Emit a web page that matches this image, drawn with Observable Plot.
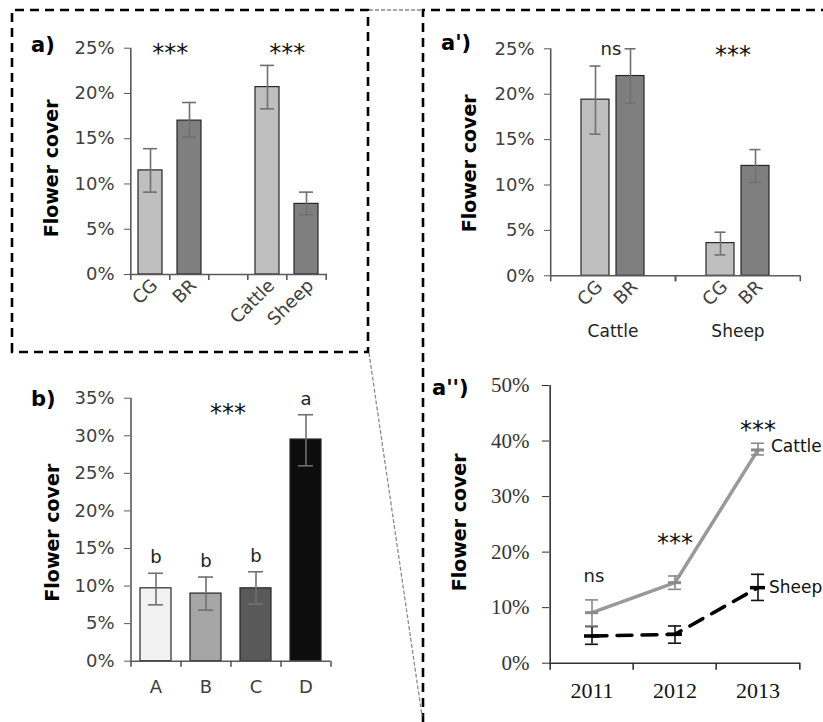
<!DOCTYPE html>
<html>
<head>
<meta charset="utf-8">
<script src="https://cdn.jsdelivr.net/npm/d3@7"></script>
<script src="https://cdn.jsdelivr.net/npm/@observablehq/plot@0.6"></script>
<style>
  html, body { margin: 0; padding: 0; background: #fff; }
  #wrap { position: relative; width: 823px; height: 722px; background: #fff; overflow: hidden; }
  .panel { position: absolute; }
  #overlay { position: absolute; left: 0; top: 0; pointer-events: none; }
  #papp g[aria-label="y-axis tick label"] text,
  #papp g[aria-label="x-axis tick label"] text { font-family: "Liberation Serif", serif; }
</style>
</head>
<body>
<div id="wrap">
  <div class="panel" id="pa" style="left:0px;top:0px"></div>
  <div class="panel" id="pap" style="left:420px;top:0px"></div>
  <div class="panel" id="pb" style="left:0px;top:350px"></div>
  <div class="panel" id="papp" style="left:420px;top:360px"></div>
  <svg id="overlay" width="823" height="722">
    <g fill="none" stroke="#000" stroke-width="2.6" stroke-dasharray="9 6">
      <path d="M12,352 V10 H368 V352 Z"></path>
      <path d="M423,722 V10 H823"></path>
    </g>
    <g fill="none" stroke="#8c8c8c" stroke-width="1.3" stroke-dasharray="4 2">
      <path d="M369,10 H421"></path>
      <path d="M369,353 L422,716"></path>
    </g>
    <g font-family="DejaVu Sans" font-weight="bold" font-size="21" fill="#000">
      <text x="31" y="51.5">a)</text>
      <text x="441" y="50">a')</text>
      <text x="31" y="406">b)</text>
      <text x="432" y="395">a'')</text>
    </g>
  </svg>
</div>
<script>
// ---------- Panel a) ----------
const aCategories = ["CG", "BR", "Cattle", "Sheep"];
const aMeans = [11.5, 17.0, 20.7, 7.8];
const aLow = [9.1, 15.2, 18.3, 6.6];
const aHigh = [13.9, 19.0, 23.1, 9.1];
const aSignifLeft = ["CG", "Cattle"];
const aSignifText = ["***", "***"];
const aTicks = [0, 5, 10, 15, 20, 25];

// ---------- Panel a') ----------
const apGroups = ["Cattle", "Cattle", "Sheep", "Sheep"];
const apTreatments = ["CG", "BR", "CG", "BR"];
const apMeans = [19.4, 22.0, 3.6, 12.1];
const apLow = [15.6, 19.0, 2.3, 10.3];
const apHigh = [23.1, 25.0, 4.8, 13.9];
const apGroupNames = ["Cattle", "Sheep"];
const apSignifText = ["ns", "***"];
const apTicks = [0, 5, 10, 15, 20, 25];

// ---------- Panel b) ----------
const bCategories = ["A", "B", "C", "D"];
const bMeans = [9.7, 9.0, 9.7, 29.5];
const bLow = [7.5, 6.8, 7.6, 26.0];
const bHigh = [11.7, 11.2, 11.9, 32.8];
const bLetters = ["b", "b", "b", "a"];
const bTicks = [0, 5, 10, 15, 20, 25, 30, 35];

// ---------- Panel a'') ----------
const years = ["2011", "2012", "2013"];
const cattleMeans = [9.1, 14.5, 38.4];
const cattleLow = [6.7, 13.3, 37.5];
const cattleHigh = [11.4, 15.7, 39.6];
const sheepMeans = [4.9, 5.2, 13.6];
const sheepLow = [3.4, 3.6, 11.3];
const sheepHigh = [6.6, 6.7, 16.0];
const yearSignifText = ["ns", "***", "***"];
const yearSignifLevel = [15.6, 22.5, 42.8];
const appTicks = [0, 10, 20, 30, 40, 50];

const SANS = "DejaVu Sans";
const SERIF = "Liberation Serif";
const AXIS = "#595959";
const ERR = "#707070";
const BAR_STROKE = "#262626";
const pct = d => d + "%";

function errMarks(data, opts, capInset, stroke, sw) {
  return [
    Plot.ruleX(data, {...opts, y1: "lo", y2: "hi", stroke, strokeWidth: sw}),
    Plot.tickY(data, {...opts, y: "lo", stroke, strokeWidth: sw, insetLeft: capInset, insetRight: capInset}),
    Plot.tickY(data, {...opts, y: "hi", stroke, strokeWidth: sw, insetLeft: capInset, insetRight: capInset})
  ];
}

// ===== Panel a =====
{
  const W = 370, H = 350, ML = 130, MR = 43, MT = 47.7, MB = 76;
  const domain = ["CG", "BR", "gap", "Cattle", "Sheep"];
  const step = (W - ML - MR) / domain.length;
  const data = aCategories.map((c, i) => ({cat: c, mean: aMeans[i], lo: aLow[i], hi: aHigh[i]}));
  const sig = aSignifLeft.map((c, i) => ({cat: c, text: aSignifText[i]}));
  const plot = Plot.plot({
    width: W, height: H, marginLeft: ML, marginRight: MR, marginTop: MT, marginBottom: MB,
    style: {fontFamily: SANS, fontSize: "18px", color: "#404040", background: "transparent", overflow: "visible"},
    x: {type: "band", domain, paddingInner: 0.38, paddingOuter: 0.19, axis: null},
    y: {domain: [0, 25], axis: null},
    color: {domain: aCategories, range: ["#bfbfbf", "#7f7f7f", "#bfbfbf", "#7f7f7f"]},
    marks: [
      Plot.barY(data, {x: "cat", y: "mean", fill: "cat", stroke: BAR_STROKE, strokeWidth: 1.2}),
      ...errMarks(data, {x: "cat"}, 5, ERR, 1.6),
      Plot.ruleY([0], {stroke: AXIS, strokeWidth: 1.6}),
      Plot.ruleX(["CG"], {x: d => d, y1: 0, y2: 25, dx: -step / 2, stroke: AXIS, strokeWidth: 1.6}),
      Plot.ruleX(domain, {x: d => d, y1: 0, y2: 0, dx: -step / 2, insetBottom: -6, stroke: AXIS, strokeWidth: 1.6}),
      Plot.ruleX([domain[domain.length - 1]], {x: d => d, y1: 0, y2: 0, dx: step / 2, insetBottom: -6, stroke: AXIS, strokeWidth: 1.6}),
      Plot.axisY({ticks: aTicks, tickFormat: pct, tickSize: 6, tickPadding: 10, stroke: AXIS, label: null}),
      Plot.axisX({tickSize: 0, tickPadding: 8, dx: 4, tickRotate: -45, tickFormat: d => d === "gap" ? "" : d, label: null}),
      Plot.text(sig, {x: "cat", text: "text", frameAnchor: "top", dx: step / 2, dy: 5, fontSize: 24, fill: "#111", lineAnchor: "middle"}),
      Plot.text(["Flower cover"], {frameAnchor: "left", rotate: -90, dx: -79, dy: 7, fontWeight: "bold", fontSize: 19, fill: "#000", textAnchor: "middle", lineAnchor: "middle"})
    ]
  });
  document.getElementById("pa").appendChild(plot);
}

// ===== Panel a' =====
{
  const W = 403, H = 360, ML = 130, MR = 23, MT = 48.3, MB = 84.7;
  const pi = 0.21, po = 0.87;
  const fw = (W - ML - MR) / apGroupNames.length;
  const step = fw / (2 - pi + 2 * po);
  const bw = step * (1 - pi);
  const edge = po * step + bw / 2;
  const data = apGroups.map((g, i) => ({group: g, treat: apTreatments[i], mean: apMeans[i], lo: apLow[i], hi: apHigh[i]}));
  const sigNs = [{group: apGroupNames[0], text: apSignifText[0]}];
  const sigStars = [{group: apGroupNames[1], text: apSignifText[1]}];
  const plot = Plot.plot({
    width: W, height: H, marginLeft: ML, marginRight: MR, marginTop: MT, marginBottom: MB,
    style: {fontFamily: SANS, fontSize: "18px", color: "#404040", background: "transparent", overflow: "visible"},
    fx: {domain: apGroupNames, padding: 0, axis: null},
    x: {type: "band", domain: ["CG", "BR"], paddingInner: pi, paddingOuter: po, axis: null},
    y: {domain: [0, 25], axis: null},
    color: {domain: ["CG", "BR"], range: ["#bfbfbf", "#7f7f7f"]},
    marks: [
      Plot.barY(data, {fx: "group", x: "treat", y: "mean", fill: "treat", stroke: BAR_STROKE, strokeWidth: 1.2}),
      ...errMarks(data, {fx: "group", x: "treat"}, 8.5, ERR, 1.6),
      Plot.ruleY([0], {stroke: AXIS, strokeWidth: 1.6}),
      Plot.ruleX([{g: "Cattle", t: "CG"}], {fx: "g", x: "t", y1: 0, y2: 25, dx: -edge, stroke: AXIS, strokeWidth: 1.6}),
      Plot.ruleX(["CG"], {x: d => d, y1: 0, y2: 0, dx: -edge, insetBottom: -6, stroke: AXIS, strokeWidth: 1.6}),
      Plot.ruleX(["BR"], {x: d => d, y1: 0, y2: 0, dx: edge, insetBottom: -6, stroke: AXIS, strokeWidth: 1.6}),
      Plot.axisY({ticks: apTicks, tickFormat: pct, tickSize: 6, tickPadding: 10, stroke: AXIS, label: null}),
      Plot.axisX({tickSize: 0, tickPadding: 8, dx: 4, tickRotate: -45, label: null}),
      Plot.text(sigNs, {fx: "group", text: "text", frameAnchor: "top", dx: -2, fontSize: 18, fill: "#222", lineAnchor: "middle"}),
      Plot.text(sigStars, {fx: "group", text: "text", frameAnchor: "top", dx: -5, dy: 7, fontSize: 24, fill: "#111", lineAnchor: "middle"}),
      Plot.text(apGroupNames, {fx: d => d, text: d => d, frameAnchor: "bottom", dy: 56, fontSize: 17, fill: "#222", lineAnchor: "middle"}),
      Plot.text([{g: "Cattle", t: "Flower cover"}], {fx: "g", text: "t", frameAnchor: "left", rotate: -90, dx: -81, dy: 1, fontWeight: "bold", fontSize: 19, fill: "#000", textAnchor: "middle", lineAnchor: "middle"})
    ]
  });
  document.getElementById("pap").appendChild(plot);
}

// ===== Panel b =====
{
  const W = 420, H = 372, ML = 130, MR = 90, MT = 47.7, MB = 61.3;
  const step = (W - ML - MR) / bCategories.length;
  const data = bCategories.map((c, i) => ({cat: c, mean: bMeans[i], lo: bLow[i], hi: bHigh[i], letter: bLetters[i]}));
  const plot = Plot.plot({
    width: W, height: H, marginLeft: ML, marginRight: MR, marginTop: MT, marginBottom: MB,
    style: {fontFamily: SANS, fontSize: "18px", color: "#404040", background: "transparent", overflow: "visible"},
    x: {type: "band", domain: bCategories, paddingInner: 0.38, paddingOuter: 0.19, axis: null},
    y: {domain: [0, 35], axis: null},
    color: {domain: bCategories, range: ["#f2f2f2", "#a6a6a6", "#595959", "#0d0d0d"]},
    marks: [
      Plot.barY(data, {x: "cat", y: "mean", fill: "cat", stroke: BAR_STROKE, strokeWidth: 1.2}),
      ...errMarks(data, {x: "cat"}, 8, ERR, 1.6),
      Plot.ruleY([0], {stroke: AXIS, strokeWidth: 1.6}),
      Plot.ruleX(["A"], {x: d => d, y1: 0, y2: 35, dx: -step / 2, stroke: AXIS, strokeWidth: 1.6}),
      Plot.ruleX(bCategories, {x: d => d, y1: 0, y2: 0, dx: -step / 2, insetBottom: -6, stroke: AXIS, strokeWidth: 1.6}),
      Plot.ruleX([bCategories[bCategories.length - 1]], {x: d => d, y1: 0, y2: 0, dx: step / 2, insetBottom: -6, stroke: AXIS, strokeWidth: 1.6}),
      Plot.axisY({ticks: bTicks, tickFormat: pct, tickSize: 6, tickPadding: 10, stroke: AXIS, label: null}),
      Plot.axisX({tickSize: 0, tickPadding: 19, lineAnchor: "top", label: null}),
      Plot.text(data, {x: "cat", y: "hi", text: "letter", dy: -10, lineAnchor: "bottom", fontSize: 18, fill: "#222"}),
      Plot.text(["***"], {x: () => "B", frameAnchor: "top", dx: step / 2 - 3, dy: 15, fontSize: 24, fill: "#111", lineAnchor: "middle"}),
      Plot.text(["Flower cover"], {frameAnchor: "left", rotate: -90, dx: -78, dy: 3, fontWeight: "bold", fontSize: 19, fill: "#000", textAnchor: "middle", lineAnchor: "middle"})
    ]
  });
  document.getElementById("pb").appendChild(plot);
}

// ===== Panel a'' =====
{
  const W = 403, H = 362, ML = 129, MR = 23, MT = 25, MB = 59.3;
  const step = (W - ML - MR) / years.length;
  const cattle = years.map((y, i) => ({year: y, mean: cattleMeans[i], lo: cattleLow[i], hi: cattleHigh[i]}));
  const sheep = years.map((y, i) => ({year: y, mean: sheepMeans[i], lo: sheepLow[i], hi: sheepHigh[i]}));
  const sig = years.map((y, i) => ({year: y, text: yearSignifText[i], level: yearSignifLevel[i]}));
  const sigNs = sig.filter(d => d.text === "ns");
  const sigStars = sig.filter(d => d.text !== "ns");
  const plot = Plot.plot({
    width: W, height: H, marginLeft: ML, marginRight: MR, marginTop: MT, marginBottom: MB,
    style: {fontFamily: SERIF, fontSize: "20px", color: "#333", background: "transparent", overflow: "visible"},
    x: {type: "band", domain: years, padding: 0, axis: null},
    y: {domain: [0, 50], axis: null},
    marks: [
      Plot.ruleY([0], {stroke: "#333", strokeWidth: 1.6}),
      Plot.ruleX([years[0]], {x: d => d, y1: 0, y2: 50, dx: -step / 2, stroke: "#333", strokeWidth: 1.6}),
      Plot.ruleX(years, {x: d => d, y1: 0, y2: 0, dx: -step / 2, insetBottom: -7, stroke: "#333", strokeWidth: 1.6}),
      Plot.ruleX([years[years.length - 1]], {x: d => d, y1: 0, y2: 0, dx: step / 2, insetBottom: -7, stroke: "#333", strokeWidth: 1.6}),
      Plot.axisY({ticks: appTicks, tickFormat: pct, tickSize: 7, tickPadding: 13, stroke: "#333", fontFamily: SERIF, fontSize: 21, label: null}),
      Plot.axisX({tickSize: 0, tickPadding: 19, lineAnchor: "top", fontFamily: SERIF, fontSize: 22, fill: "#111", label: null}),
      Plot.line(sheep, {x: "year", y: "mean", stroke: "#000", strokeWidth: 3.5, strokeDasharray: "15,10"}),
      ...errMarks(sheep, {x: "year"}, 35, "#111", 1.6),
      Plot.tickY(sheep, {x: "year", y: "mean", stroke: "#000", strokeWidth: 3.5, insetLeft: 34, insetRight: 34}),
      Plot.line(cattle, {x: "year", y: "mean", stroke: "#999", strokeWidth: 3.5}),
      ...errMarks(cattle, {x: "year"}, 35, "#8a8a8a", 1.6),
      Plot.tickY(cattle, {x: "year", y: "mean", stroke: "#8a8a8a", strokeWidth: 3, insetLeft: 35, insetRight: 35}),
      Plot.text([cattle[cattle.length - 1]], {x: "year", y: "mean", text: () => "Cattle", dx: 13, dy: -3, textAnchor: "start", fontFamily: SANS, fontSize: 17, fill: "#111"}),
      Plot.text([sheep[sheep.length - 1]], {x: "year", y: "mean", text: () => "Sheep", dx: 11, textAnchor: "start", fontFamily: SANS, fontSize: 17, fill: "#111"}),
      Plot.text(sigNs, {x: "year", y: "level", text: "text", dx: 2, fontFamily: SANS, fontSize: 18, fill: "#222", lineAnchor: "middle"}),
      Plot.text(sigStars, {x: "year", y: "level", text: "text", dx: 0, dy: 5, fontFamily: SANS, fontSize: 24, fill: "#111", lineAnchor: "middle"}),
      Plot.text(["Flower cover"], {frameAnchor: "left", rotate: -90, dx: -90, dy: -2, fontFamily: SANS, fontWeight: "bold", fontSize: 19, fill: "#000", textAnchor: "middle", lineAnchor: "middle"})
    ]
  });
  document.getElementById("papp").appendChild(plot);
}
</script>
</body>
</html>
